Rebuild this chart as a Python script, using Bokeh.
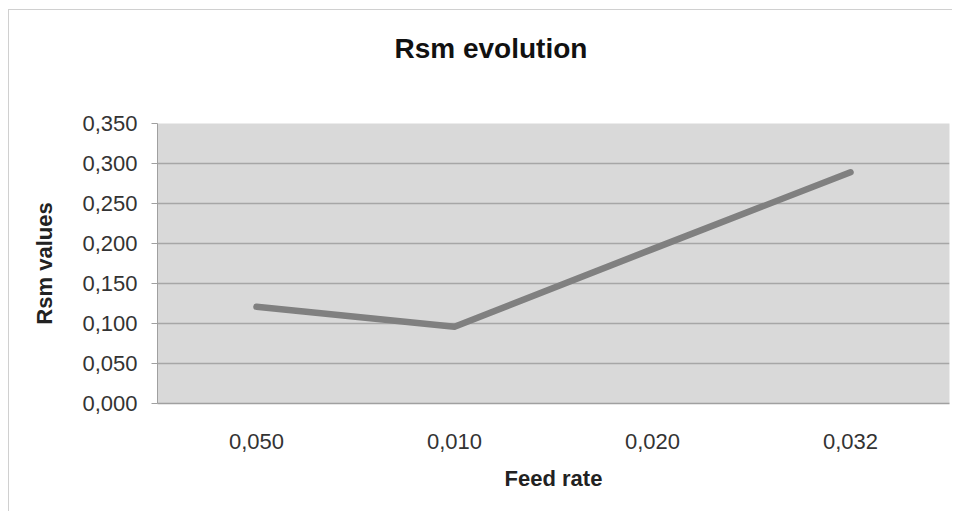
from bokeh.plotting import figure
from bokeh.models import FactorRange, Range1d, Title, FixedTicker, CustomJSTickFormatter
from bokeh.embed import file_html
from bokeh.resources import INLINE

categories = ["0,050", "0,010", "0,020", "0,032"]
rsm_values = [0.121, 0.096, 0.193, 0.289]
y_ticks = [0.0, 0.05, 0.10, 0.15, 0.20, 0.25, 0.30, 0.35]

p = figure(width=952, height=511, output_backend="svg", toolbar_location=None,
           x_range=FactorRange(*categories, range_padding=0),
           y_range=Range1d(0, 0.35),
           min_border_left=157, min_border_right=3, min_border_top=123, min_border_bottom=108)
p.styles = {"box-shadow": "inset 8px 9px 0 0 white, inset 9px 10px 0 0 #d0d0d0",
            "background-color": "white"}
p.background_fill_color = "#d9d9d9"
p.border_fill_color = None
p.outline_line_color = None

p.line(categories, rsm_values, line_color="#808080", line_width=6.5, line_join="round", line_cap="round")

p.xgrid.grid_line_color = None
p.ygrid.grid_line_color = "#a6a6a6"
p.ygrid.grid_line_width = 1.5
p.ygrid.ticker = FixedTicker(ticks=y_ticks)

p.yaxis.ticker = FixedTicker(ticks=y_ticks)
p.yaxis.formatter = CustomJSTickFormatter(code="return tick.toFixed(3).replace('.', ',');")
p.yaxis.major_label_text_font = "Liberation Sans"
p.yaxis.major_label_text_font_size = "22px"
p.yaxis.major_label_text_color = "#333333"
p.yaxis.major_label_standoff = 14
p.yaxis.major_tick_in = 0
p.yaxis.major_tick_out = 6
p.yaxis.minor_tick_line_color = None
p.yaxis.axis_line_color = "#a0a0a0"
p.yaxis.major_tick_line_color = "#a0a0a0"
p.yaxis.axis_label = "Rsm values"
p.yaxis.axis_label_text_font = "Liberation Sans"
p.yaxis.axis_label_text_font_style = "bold"
p.yaxis.axis_label_text_font_size = "22px"
p.yaxis.axis_label_text_color = "#222222"
p.yaxis.axis_label_standoff = 22

p.xaxis.major_label_text_font = "Liberation Sans"
p.xaxis.major_label_text_font_size = "22px"
p.xaxis.major_label_text_color = "#333333"
p.xaxis.major_label_standoff = 24
p.xaxis.major_tick_line_color = None
p.xaxis.axis_line_color = "#a0a0a0"
p.xaxis.axis_line_width = 1.5
p.xaxis.axis_label = "Feed rate"
p.xaxis.axis_label_text_font = "Liberation Sans"
p.xaxis.axis_label_text_font_style = "bold"
p.xaxis.axis_label_text_font_size = "22px"
p.xaxis.axis_label_text_color = "#222222"
p.xaxis.axis_label_standoff = 14

spacer = Title(text=" ", text_font_size="1px", standoff=52)
p.add_layout(spacer, "above")
title = Title(text="Rsm evolution", align="left", offset=237, standoff=10,
              text_font="Liberation Sans", text_font_style="bold", text_font_size="28px",
              text_color="#111111")
p.add_layout(title, "above")

open("out.html", "w").write(file_html(p, INLINE))
